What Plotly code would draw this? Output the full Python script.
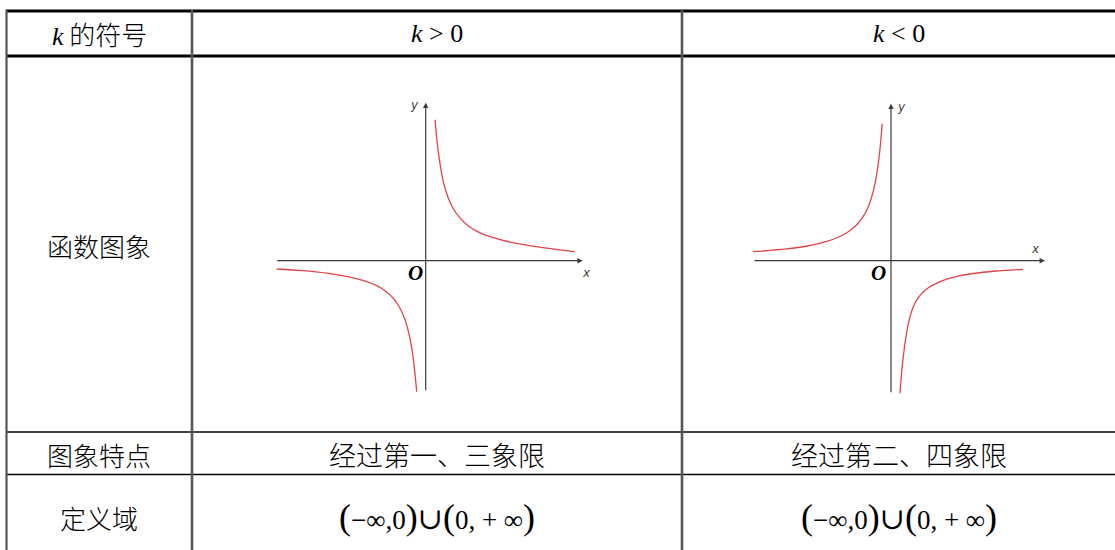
import plotly.graph_objects as go

# table text
row_headers = ["<span style='font-family:Liberation Serif'><i>k</i></span> 的符号", "函数图象", "图象特点", "定义域"]
column_headers = ["<i>k</i> > 0", "<i>k</i> < 0"]
features = ["经过第一、三象限", "经过第二、四象限"]
domain_text = (
    "<span style='font-size:36px'>(</span>−∞,0<span style='font-size:36px'>)</span>"
    "<span style='font-size:30px;font-family:DejaVu Serif'>∪</span>"
    "<span style='font-size:36px'>(</span>0, + ∞<span style='font-size:36px'>)</span>"
)

# curve points (grid units, origin at axis crossing)
pos_q1_x = [0.93, 1.1, 1.3, 1.6, 2.0, 2.6, 3.4, 4.3, 5.3, 6.6, 8.2, 10.1, 12.5, 14.9]
pos_q1_y = [14.1, 12.3, 10.6, 8.7, 7.0, 5.5, 4.3, 3.45, 2.85, 2.35, 1.92, 1.55, 1.2, 0.9]
pos_q3_x = [-14.9, -12.3, -9.9, -7.8, -6.2, -5.0, -4.0, -3.2, -2.6, -2.1, -1.7, -1.4, -1.15, -0.9]
pos_q3_y = [-0.83, -1.0, -1.25, -1.6, -2.0, -2.45, -3.05, -3.8, -4.7, -5.8, -7.2, -8.7, -10.6, -13.1]

neg_q2_x = [-13.8, -10.5, -8.4, -6.5, -5.1, -4.2, -3.4, -2.9, -2.4, -2.0, -1.6, -1.3, -1.1, -0.88]
neg_q2_y = [0.9, 1.18, 1.47, 1.9, 2.42, 2.95, 3.62, 4.25, 5.1, 6.15, 7.7, 9.5, 11.2, 13.7]
neg_q4_x = [0.9, 1.05, 1.23, 1.5, 1.8, 2.23, 2.8, 3.6, 4.9, 6.5, 8.2, 10.5, 13.2]
neg_q4_y = [-13.26, -11.3, -9.6, -7.6, -6.0, -4.6, -3.6, -2.8, -2.1, -1.6, -1.28, -1.03, -0.86]

W, H = 1115, 550
CURVE = "#e2434b"
AXIS = "#3a3a3a"


def px(x):
    return x / W


def py(y):
    return 1 - y / H


fig = go.Figure()

curves = [
    (pos_q1_x, pos_q1_y, "x", "y"),
    (pos_q3_x, pos_q3_y, "x", "y"),
    (neg_q2_x, neg_q2_y, "x2", "y2"),
    (neg_q4_x, neg_q4_y, "x2", "y2"),
]
for cx, cy, xa, ya in curves:
    fig.add_trace(
        go.Scatter(
            x=cx,
            y=cy,
            xaxis=xa,
            yaxis=ya,
            mode="lines",
            line={"color": CURVE, "width": 1.3, "shape": "spline", "smoothing": 0.8},
            showlegend=False,
            hoverinfo="skip",
        )
    )

# table rules
shapes = []
hlines = [(11, 3.2, "black"), (56, 3.2, "black"), (432, 1.6, "black"), (474.5, 1.6, "black")]
for y, w, c in hlines:
    shapes.append(dict(type="line", xref="paper", yref="paper",
                       x0=px(6), x1=1, y0=py(y), y1=py(y),
                       line={"color": c, "width": w}))
vlines = [(6.5, 2.2), (192, 2.6), (682, 2.6)]
for x, w in vlines:
    shapes.append(dict(type="line", xref="paper", yref="paper",
                       x0=px(x), x1=px(x), y0=py(9.5), y1=0,
                       line={"color": "#555555", "width": w}))

annotations = []


def cell_text(x, y, text, size, family, weight="normal"):
    annotations.append(dict(
        x=px(x), y=py(y), xref="paper", yref="paper",
        text=text, showarrow=False, xanchor="center", yanchor="middle",
        font={"size": size, "family": family, "color": "black", "weight": weight},
    ))


cjk = "Noto Sans CJK SC"
serif = "Liberation Serif"
row_y = [34, 245, 454, 517]
for label, y in zip(row_headers, row_y):
    cell_text(99, y, label, 26, cjk, 300)

col_x = [437, 899]
for label, x in zip(column_headers, col_x):
    cell_text(x, 34, label, 26, serif)
for label, x in zip(features, col_x):
    cell_text(x, 454, label, 27, cjk, 300)
for x in col_x:
    cell_text(x, 517, domain_text, 27, serif)

# coordinate axes with arrows
axes_spec = [
    ("x", "y", (-15.0, 15.7), (-13.1, 15.8), (-1.17, 15.6), (16.1, -1.23), (-1.07, -1.25)),
    ("x2", "y2", (-13.8, 15.4), (-13.3, 15.7), (1.07, 15.4), (14.4, 1.14), (-1.27, -1.26)),
]
for xa, ya, xr, yr, ylab, xlab, olab in axes_spec:
    annotations.append(dict(x=xr[1], y=0, ax=xr[0], ay=0, xref=xa, yref=ya,
                            axref=xa, ayref=ya, text="", showarrow=True,
                            arrowhead=2, arrowsize=0.9, arrowwidth=1.2, arrowcolor=AXIS))
    annotations.append(dict(x=0, y=yr[1], ax=0, ay=yr[0], xref=xa, yref=ya,
                            axref=xa, ayref=ya, text="", showarrow=True,
                            arrowhead=2, arrowsize=0.9, arrowwidth=1.2, arrowcolor=AXIS))
    annotations.append(dict(x=ylab[0], y=ylab[1], xref=xa, yref=ya, text="<i>y</i>",
                            showarrow=False, font={"size": 12, "family": "DejaVu Sans", "color": "#444"}))
    annotations.append(dict(x=xlab[0], y=xlab[1], xref=xa, yref=ya, text="<i>x</i>",
                            showarrow=False, font={"size": 12, "family": "DejaVu Sans", "color": "#444"}))
    annotations.append(dict(x=olab[0], y=olab[1], xref=xa, yref=ya, text="<b><i>O</i></b>",
                            showarrow=False, font={"size": 21, "family": serif, "color": "black"}))

hidden = {"visible": False, "fixedrange": True}
fig.update_layout(
    width=W,
    height=H,
    margin={"l": 0, "r": 0, "t": 0, "b": 0},
    paper_bgcolor="white",
    plot_bgcolor="white",
    shapes=shapes,
    annotations=annotations,
    xaxis={**hidden, "domain": [px(192), px(683)], "range": [-23.37, 25.73]},
    yaxis={**hidden, "domain": [py(432), py(55)], "range": [-17.13, 20.57]},
    xaxis2={**hidden, "domain": [px(683), 1], "range": [-20.8, 22.4]},
    yaxis2={**hidden, "domain": [py(432), py(55)], "range": [-17.13, 20.57]},
)

# the page body has a default margin; drop it so the figure sits at the window corner
fig.write_html(
    "out.html",
    config={"displayModeBar": False},
    post_script="document.body.style.margin='0';",
)
